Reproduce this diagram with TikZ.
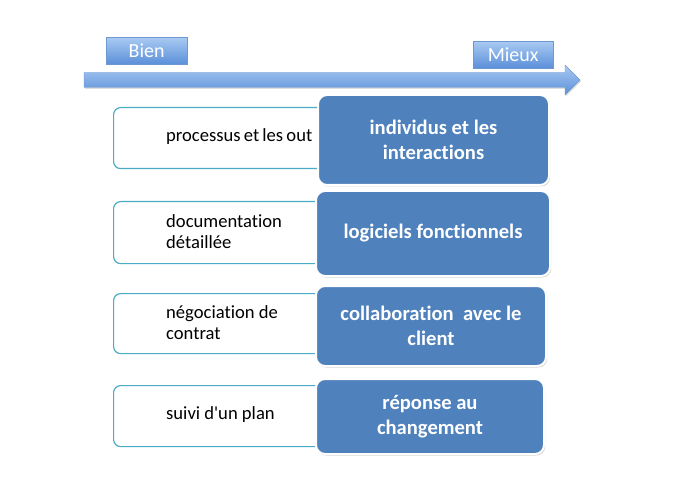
\documentclass[tikz,border=0pt]{standalone}
\usepackage{fontspec}
\setmainfont[Ligatures=NoCommon]{Carlito}
\usetikzlibrary{shadows}
\definecolor{bluefill}{HTML}{4F81BD}
\definecolor{tealline}{HTML}{4BACC6}
\definecolor{lighttop}{HTML}{A9CAF2}
\definecolor{lightbot}{HTML}{5B8FD9}
\definecolor{lightline}{HTML}{6E98D0}
\begin{document}
\begin{tikzpicture}[x=1pt,y=-1pt,
  oldbox/.style={draw=tealline, line width=1.2pt, rounded corners=7pt, fill=white, anchor=north west, inner sep=0},
  oldtext/.style={font=\fontsize{18.6}{21}\selectfont, align=left, anchor=west, inner sep=0},
  newbox/.style={draw=white, line width=2pt, fill=bluefill, rounded corners=9pt, anchor=north west,
     drop shadow={opacity=0.35, shadow xshift=1.2pt, shadow yshift=-1.5pt},
     font=\bfseries\fontsize{20.6}{25}\selectfont, text=white, align=center, inner sep=0},
  labelbox/.style={draw=lightline, top color=lighttop, bottom color=lightbot, anchor=north west,
     font=\fontsize{20}{22}\selectfont, text=white, inner sep=0}
]
\useasboundingbox (0,0) rectangle (684,502);
% arrow
\draw[draw=lightline, top color=lighttop, bottom color=lightbot,
      drop shadow={opacity=0.25, shadow xshift=1pt, shadow yshift=-1.5pt}]
  (84,72.5) -- (565,72.5) -- (565,65) -- (580,80) -- (565,95) -- (565,87.5) -- (84,87.5) -- cycle;
\node[labelbox, minimum width=81, minimum height=27] (bien) at (106,37) {Bien};
\node[labelbox, minimum width=80, minimum height=27] (mieux) at (473,41) {Mieux};
% left boxes
\node[oldbox, minimum width=230, minimum height=61] (o1) at (113,107) {};
\node[oldbox, minimum width=230, minimum height=62] (o2) at (113,201) {};
\node[oldbox, minimum width=230, minimum height=60] (o3) at (113,293) {};
\node[oldbox, minimum width=230, minimum height=61] (o4) at (113,385) {};
\node[oldtext] (t1) at (166,137) {processus\hspace{3.2pt}et\hspace{3.2pt}les\hspace{3.2pt}out};
\node[oldtext] (t2) at (166,231.5) {documentation\\détaillée};
\node[oldtext] (t3) at (166,322.5) {négociation de\\contrat};
\node[oldtext] (t4) at (166,415) {suivi d\textquotesingle un plan};
% right boxes
\node[newbox, minimum width=231, minimum height=90] (n1) at (317,94) {individus et les\\interactions};
\node[newbox, minimum width=234, minimum height=85] (n2) at (315,190) {logiciels fonctionnels};
\node[newbox, minimum width=230, minimum height=80] (n3) at (315,285) {collaboration\ \ avec le\\client};
\node[newbox, minimum width=228, minimum height=75] (n4) at (315,378) {réponse au\\changement};
\end{tikzpicture}
\end{document}
